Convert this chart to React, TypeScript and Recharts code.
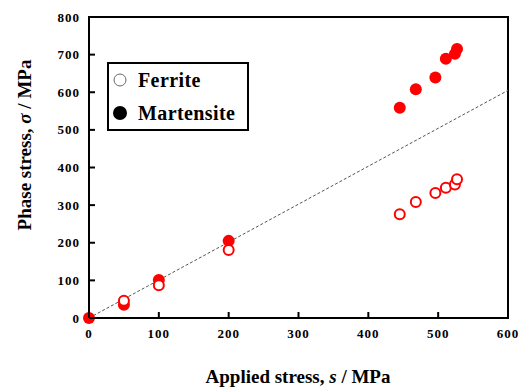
import { ScatterChart, Scatter, XAxis, YAxis, ReferenceLine, ReferenceArea } from "recharts";

const appliedStress = [0, 50, 100, 200, 445, 468, 496, 511, 524, 527];
const martensiteStress = [0, 35, 101, 205, 559, 608, 639, 689, 702, 715];
const ferriteApplied = [50, 100, 200, 445, 468, 496, 511, 524, 527];
const ferriteStress = [46, 87, 181, 276, 308, 332, 346, 355, 369];
const xTicks = [0, 100, 200, 300, 400, 500, 600];
const yTicks = [0, 100, 200, 300, 400, 500, 600, 700, 800];

const martensite = appliedStress.map((x, i) => ({ x, y: martensiteStress[i] }));
const ferrite = ferriteApplied.map((x, i) => ({ x, y: ferriteStress[i] }));

const FONT = "Liberation Serif, Times New Roman, serif";

// ticks point inward, so draw them by hand next to the label
const renderXTick = ({ x, y, payload }: any) => (
  <g key={`xt-${payload.value}`}>
    <line x1={x} x2={x} y1={318} y2={312} stroke="#000" strokeWidth={2} />
    <text x={x} y={y} dy="0.71em" textAnchor="middle" fontFamily={FONT} fontWeight="bold" fontSize={13} letterSpacing={1} fill="#000">
      {payload.value}
    </text>
  </g>
);

const renderYTick = ({ x, y, payload }: any) => (
  <g key={`yt-${payload.value}`}>
    <line x1={89} x2={95} y1={y} y2={y} stroke="#000" strokeWidth={2} />
    <text x={x} y={y} dy="0.35em" textAnchor="end" fontFamily={FONT} fontWeight="bold" fontSize={13} letterSpacing={1} fill="#000">
      {payload.value}
    </text>
  </g>
);

const FilledDot = ({ cx, cy }: any) => <circle cx={cx} cy={cy} r={6} fill="#ff0000" />;
const OpenDot = ({ cx, cy }: any) => (
  <circle cx={cx} cy={cy} r={5} fill="#fff" stroke="#ff0000" strokeWidth={2} />
);

export default function App() {
  return (
    <div style={{ position: "absolute", left: 0, top: 0, width: 527, height: 389, background: "#fff" }}>
      <ScatterChart width={527} height={389} margin={{ top: 17, right: 19, left: 0, bottom: 0 }}>
        <XAxis
          type="number"
          dataKey="x"
          domain={[0, 600]}
          ticks={xTicks}
          height={71}
          tickSize={0}
          tickMargin={11}
          tick={renderXTick}
          axisLine={{ stroke: "#000", strokeWidth: 2 }}
        />
        <YAxis
          type="number"
          dataKey="y"
          domain={[0, 800]}
          ticks={yTicks}
          width={89}
          tickSize={0}
          tickMargin={9}
          tick={renderYTick}
          axisLine={{ stroke: "#000", strokeWidth: 2 }}
        />
        <ReferenceArea x1={0} x2={600} y1={0} y2={800} fill="none" stroke="#000" strokeWidth={2} />
        <ReferenceLine
          segment={[{ x: 0, y: 0 }, { x: 600, y: 605 }]}
          stroke="#555"
          strokeWidth={1}
          strokeDasharray="3 2"
        />
        <Scatter data={martensite} shape={<FilledDot />} isAnimationActive={false} />
        <Scatter data={ferrite} shape={<OpenDot />} isAnimationActive={false} />
      </ScatterChart>
      <svg width={527} height={389} style={{ position: "absolute", left: 0, top: 0, pointerEvents: "none" }}>
        <text x={298} y={383} textAnchor="middle" fontFamily={FONT} fontWeight="bold" fontSize={19}>
          Applied stress, <tspan fontStyle="italic">s</tspan> / MPa
        </text>
        <text
          x={0}
          y={0}
          transform="translate(31,145) rotate(-90)"
          textAnchor="middle"
          fontFamily={FONT}
          fontWeight="bold"
          fontSize={19}
        >
          Phase stress, <tspan fontStyle="italic">σ</tspan> / MPa
        </text>
        <rect x={108} y={63} width={140} height={67} fill="#fff" stroke="#000" strokeWidth={2} />
        <circle cx={120} cy={80} r={6} fill="#fff" stroke="#666" strokeWidth={1} />
        <text x={138} y={87} fontFamily={FONT} fontWeight="bold" fontSize={20} letterSpacing={0.4}>
          Ferrite
        </text>
        <circle cx={120} cy={113} r={7} fill="#000" />
        <text x={138} y={120} fontFamily={FONT} fontWeight="bold" fontSize={20} letterSpacing={0.4}>
          Martensite
        </text>
      </svg>
    </div>
  );
}
